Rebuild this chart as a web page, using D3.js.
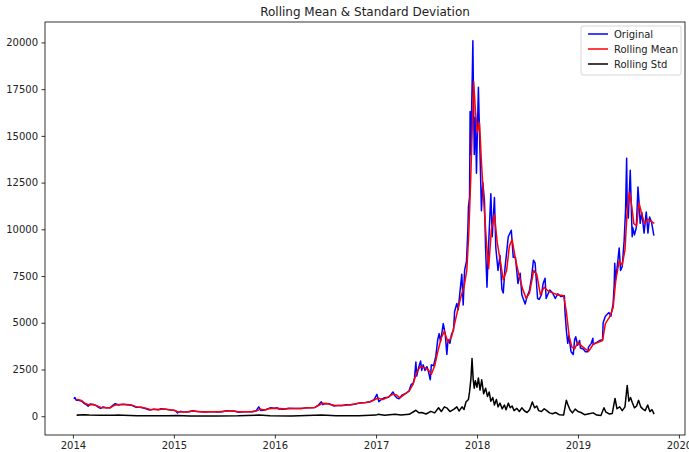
<!DOCTYPE html>
<html>
<head>
<meta charset="utf-8">
<script src="https://cdn.jsdelivr.net/npm/d3@7"></script>
<style>
  html, body { margin: 0; padding: 0; background: #fff; }
  svg { display: block; font-family: "DejaVu Sans", sans-serif; }
</style>
</head>
<body>
<svg id="chart" width="689" height="452"></svg>
<script>
// Daily price series, sampled at its turning points
const original = [
  ["2014-01-06", 960], ["2014-01-08", 1000], ["2014-01-13", 860], ["2014-01-20", 860], ["2014-02-01", 820],
  ["2014-02-10", 690], ["2014-02-18", 620], ["2014-02-25", 540], ["2014-03-05", 660], ["2014-03-15", 630],
  ["2014-03-25", 580], ["2014-04-05", 460], ["2014-04-11", 420], ["2014-04-20", 500], ["2014-05-01", 450],
  ["2014-05-15", 450], ["2014-05-25", 580], ["2014-06-03", 670], ["2014-06-15", 600], ["2014-07-01", 640],
  ["2014-07-15", 620], ["2014-08-01", 590], ["2014-08-18", 480], ["2014-09-01", 480], ["2014-09-20", 410],
  ["2014-10-05", 330], ["2014-10-20", 380], ["2014-11-05", 340], ["2014-11-15", 400], ["2014-12-01", 380],
  ["2014-12-15", 340], ["2014-12-31", 320],
  ["2015-01-07", 290], ["2015-01-14", 180], ["2015-01-25", 260], ["2015-02-10", 220], ["2015-02-25", 240],
  ["2015-03-10", 290], ["2015-03-25", 250], ["2015-04-10", 240], ["2015-04-25", 225], ["2015-05-10", 240],
  ["2015-05-25", 238], ["2015-06-10", 230], ["2015-06-25", 245], ["2015-07-10", 290], ["2015-07-25", 290],
  ["2015-08-10", 265], ["2015-08-24", 210], ["2015-09-10", 240], ["2015-09-25", 235], ["2015-10-10", 245],
  ["2015-10-25", 285], ["2015-11-04", 500], ["2015-11-11", 310], ["2015-11-20", 325], ["2015-12-01", 360],
  ["2015-12-15", 450], ["2015-12-31", 430],
  ["2016-01-10", 450], ["2016-01-15", 380], ["2016-02-01", 375], ["2016-02-20", 430], ["2016-03-10", 410],
  ["2016-03-25", 420], ["2016-04-10", 420], ["2016-04-25", 460], ["2016-05-10", 455], ["2016-05-25", 470],
  ["2016-06-05", 575], ["2016-06-17", 770], ["2016-06-23", 620], ["2016-07-01", 680], ["2016-07-15", 665],
  ["2016-08-02", 545], ["2016-08-15", 570], ["2016-09-01", 575], ["2016-09-15", 610], ["2016-10-01", 610],
  ["2016-10-15", 640], ["2016-10-30", 700], ["2016-11-10", 715], ["2016-11-25", 735], ["2016-12-10", 775],
  ["2016-12-25", 890],
  ["2017-01-04", 1170], ["2017-01-11", 780], ["2017-01-20", 895], ["2017-02-01", 990], ["2017-02-15", 1010],
  ["2017-02-25", 1180], ["2017-03-03", 1300], ["2017-03-10", 1100], ["2017-03-18", 970], ["2017-03-25", 940],
  ["2017-04-05", 1130], ["2017-04-20", 1240], ["2017-04-30", 1350], ["2017-05-08", 1700], ["2017-05-15", 1750],
  ["2017-05-20", 2050], ["2017-05-25", 2900], ["2017-05-28", 2150], ["2017-06-03", 2550], ["2017-06-11", 2950],
  ["2017-06-15", 2450], ["2017-06-20", 2750], ["2017-06-27", 2450], ["2017-07-04", 2650], ["2017-07-10", 2350],
  ["2017-07-16", 1950], ["2017-07-20", 2750], ["2017-07-28", 2700], ["2017-08-05", 3200], ["2017-08-12", 4100],
  ["2017-08-17", 4420], ["2017-08-22", 4000], ["2017-08-28", 4550], ["2017-09-01", 4960], ["2017-09-08", 4400],
  ["2017-09-14", 3300], ["2017-09-18", 4100], ["2017-09-25", 3900], ["2017-10-01", 4400], ["2017-10-08", 4600],
  ["2017-10-12", 5600], ["2017-10-20", 6030], ["2017-10-25", 5700], ["2017-11-01", 6750], ["2017-11-07", 7600],
  ["2017-11-12", 5950], ["2017-11-17", 7800], ["2017-11-24", 8300], ["2017-11-29", 10000], ["2017-12-01", 11200],
  ["2017-12-05", 11700], ["2017-12-07", 16300], ["2017-12-10", 14000], ["2017-12-13", 16800], ["2017-12-15", 18300],
  ["2017-12-17", 20089], ["2017-12-19", 17500], ["2017-12-22", 14000], ["2017-12-26", 16000], ["2017-12-30", 13000],
  ["2018-01-06", 17600], ["2018-01-11", 14600], ["2018-01-17", 11000], ["2018-01-22", 12500], ["2018-01-28", 11500],
  ["2018-02-01", 9000], ["2018-02-06", 6900], ["2018-02-10", 8500], ["2018-02-20", 11900], ["2018-02-25", 9600],
  ["2018-03-05", 11700], ["2018-03-10", 9000], ["2018-03-18", 7800], ["2018-03-25", 8600], ["2018-04-01", 6800],
  ["2018-04-06", 6600], ["2018-04-12", 7900], ["2018-04-24", 9600], ["2018-05-05", 9950], ["2018-05-12", 8500],
  ["2018-05-20", 8500], ["2018-05-29", 7100], ["2018-06-06", 7650], ["2018-06-12", 6500], ["2018-06-24", 6000],
  ["2018-07-01", 6400], ["2018-07-09", 6700], ["2018-07-17", 7400], ["2018-07-24", 8350], ["2018-07-30", 8200],
  ["2018-08-08", 6300], ["2018-08-14", 6250], ["2018-08-22", 6500], ["2018-08-28", 7100], ["2018-09-04", 7380],
  ["2018-09-08", 6300], ["2018-09-15", 6550], ["2018-09-21", 6750], ["2018-10-01", 6600], ["2018-10-11", 6300],
  ["2018-10-20", 6550], ["2018-11-01", 6400], ["2018-11-13", 6450], ["2018-11-15", 5600], ["2018-11-20", 4600],
  ["2018-11-25", 3900], ["2018-11-29", 4300], ["2018-12-07", 3450], ["2018-12-15", 3300], ["2018-12-20", 4100],
  ["2018-12-24", 4250], ["2018-12-31", 3800],
  ["2019-01-07", 4050], ["2019-01-10", 3650], ["2019-01-20", 3600], ["2019-01-28", 3450], ["2019-02-06", 3450],
  ["2019-02-08", 3700], ["2019-02-18", 3900], ["2019-02-24", 4170], ["2019-02-25", 3850], ["2019-03-10", 3950],
  ["2019-03-20", 4050], ["2019-03-31", 4100], ["2019-04-02", 5000], ["2019-04-10", 5350], ["2019-04-23", 5550],
  ["2019-04-30", 5350], ["2019-05-08", 6000], ["2019-05-12", 7000], ["2019-05-14", 8180], ["2019-05-17", 7300],
  ["2019-05-23", 8000], ["2019-05-30", 9000], ["2019-06-04", 7800], ["2019-06-10", 8000], ["2019-06-17", 9400],
  ["2019-06-22", 11000], ["2019-06-26", 13800], ["2019-06-28", 11200], ["2019-07-02", 10600], ["2019-07-09", 13160],
  ["2019-07-16", 9600], ["2019-07-18", 10100], ["2019-07-24", 9700], ["2019-07-31", 10100], ["2019-08-06", 12260],
  ["2019-08-10", 11400], ["2019-08-14", 10320], ["2019-08-20", 10900], ["2019-08-28", 9800], ["2019-09-05", 10930],
  ["2019-09-11", 9800], ["2019-09-17", 10660], ["2019-09-24", 10390], ["2019-10-02", 9700]
];

// 12-day rolling mean
const rollingMean = [
  ["2014-01-17", 900], ["2014-02-01", 840], ["2014-02-15", 680], ["2014-03-01", 600], ["2014-03-15", 630],
  ["2014-04-01", 540], ["2014-04-15", 450], ["2014-05-01", 460], ["2014-05-15", 450], ["2014-06-01", 590],
  ["2014-06-15", 630], ["2014-07-01", 630], ["2014-07-15", 625], ["2014-08-01", 595], ["2014-08-20", 500],
  ["2014-09-05", 480], ["2014-09-25", 420], ["2014-10-10", 350], ["2014-10-25", 370], ["2014-11-10", 355],
  ["2014-11-25", 385], ["2014-12-10", 360], ["2014-12-31", 325],
  ["2015-01-15", 240], ["2015-02-01", 230], ["2015-02-20", 235], ["2015-03-10", 275], ["2015-03-30", 255],
  ["2015-04-20", 230], ["2015-05-15", 238], ["2015-06-15", 235], ["2015-07-10", 275], ["2015-07-30", 288],
  ["2015-08-20", 240], ["2015-09-15", 236], ["2015-10-10", 245], ["2015-10-30", 300], ["2015-11-10", 380],
  ["2015-11-25", 330], ["2015-12-10", 400], ["2015-12-31", 430],
  ["2016-01-20", 410], ["2016-02-10", 390], ["2016-03-01", 420], ["2016-04-01", 420], ["2016-05-01", 450],
  ["2016-05-25", 470], ["2016-06-10", 600], ["2016-06-22", 700], ["2016-07-10", 670], ["2016-08-05", 570],
  ["2016-09-01", 575], ["2016-10-01", 610], ["2016-10-30", 690], ["2016-11-25", 730], ["2016-12-15", 790],
  ["2016-12-31", 920],
  ["2017-01-10", 960], ["2017-01-25", 890], ["2017-02-10", 1000], ["2017-03-01", 1170], ["2017-03-15", 1150],
  ["2017-03-28", 980], ["2017-04-15", 1180], ["2017-05-01", 1350], ["2017-05-15", 1720], ["2017-05-28", 2350],
  ["2017-06-10", 2650], ["2017-06-25", 2600], ["2017-07-08", 2500], ["2017-07-20", 2250], ["2017-08-01", 2700],
  ["2017-08-12", 3450], ["2017-08-25", 4200], ["2017-09-05", 4550], ["2017-09-18", 3950], ["2017-10-01", 4250],
  ["2017-10-12", 4950], ["2017-10-25", 5800], ["2017-11-05", 6450], ["2017-11-15", 6900], ["2017-11-25", 7800],
  ["2017-12-02", 9700], ["2017-12-09", 12600], ["2017-12-15", 15500], ["2017-12-20", 17900], ["2017-12-26", 16400],
  ["2018-01-02", 15200], ["2018-01-10", 15700], ["2018-01-17", 13600], ["2018-01-25", 11600], ["2018-02-05", 9100],
  ["2018-02-12", 7900], ["2018-02-22", 10000], ["2018-03-05", 10800], ["2018-03-15", 9300], ["2018-03-25", 8400],
  ["2018-04-06", 7300], ["2018-04-18", 7800], ["2018-04-28", 9100], ["2018-05-08", 9450], ["2018-05-20", 8400],
  ["2018-06-01", 7600], ["2018-06-15", 6800], ["2018-06-28", 6300], ["2018-07-10", 6600], ["2018-07-25", 7800],
  ["2018-08-05", 7600], ["2018-08-18", 6500], ["2018-09-01", 6900], ["2018-09-15", 6700], ["2018-10-01", 6600],
  ["2018-10-20", 6500], ["2018-11-10", 6450], ["2018-11-20", 5600], ["2018-11-30", 4300], ["2018-12-10", 3700],
  ["2018-12-20", 3600], ["2018-12-31", 3950],
  ["2019-01-15", 3750], ["2019-02-01", 3550], ["2019-02-10", 3500], ["2019-02-25", 3850], ["2019-03-15", 3950],
  ["2019-03-31", 4050], ["2019-04-10", 4950], ["2019-04-25", 5300], ["2019-05-08", 5800], ["2019-05-18", 7300],
  ["2019-05-30", 8300], ["2019-06-10", 8100], ["2019-06-20", 8900], ["2019-06-28", 11000], ["2019-07-06", 12000],
  ["2019-07-14", 11300], ["2019-07-22", 10300], ["2019-08-01", 10200], ["2019-08-10", 11400], ["2019-08-20", 10800],
  ["2019-08-30", 10300], ["2019-09-10", 10550], ["2019-09-20", 10450], ["2019-10-02", 10340]
];

// 12-day rolling standard deviation
const rollingStd = [
  ["2014-01-17", 60], ["2014-02-10", 80], ["2014-03-01", 60], ["2014-04-10", 50], ["2014-06-01", 50],
  ["2014-06-10", 60], ["2014-08-20", 30], ["2014-10-05", 30], ["2014-12-01", 20], ["2015-01-15", 40],
  ["2015-03-01", 15], ["2015-06-01", 10], ["2015-08-20", 20], ["2015-11-05", 60], ["2015-12-15", 25],
  ["2016-03-01", 15], ["2016-06-18", 70], ["2016-08-10", 30], ["2016-10-30", 25], ["2016-12-31", 60],
  ["2017-01-08", 100], ["2017-02-01", 50], ["2017-03-10", 110], ["2017-04-01", 60], ["2017-05-01", 100],
  ["2017-05-25", 320], ["2017-06-05", 180], ["2017-06-15", 200], ["2017-07-01", 120], ["2017-07-18", 260],
  ["2017-08-01", 180], ["2017-08-15", 450], ["2017-08-25", 250], ["2017-09-05", 500], ["2017-09-15", 430],
  ["2017-09-25", 250], ["2017-10-10", 380], ["2017-10-20", 500], ["2017-10-28", 280], ["2017-11-08", 500],
  ["2017-11-15", 360], ["2017-11-22", 760], ["2017-12-01", 900], ["2017-12-05", 1300], ["2017-12-10", 2000],
  ["2017-12-14", 3085], ["2017-12-18", 2000], ["2017-12-22", 1500], ["2017-12-26", 1900], ["2018-01-01", 1550],
  ["2018-01-06", 2050], ["2018-01-12", 1400], ["2018-01-18", 1950], ["2018-01-25", 1200], ["2018-02-01", 1500],
  ["2018-02-08", 1050], ["2018-02-14", 1300], ["2018-02-20", 800], ["2018-02-27", 1000], ["2018-03-05", 600],
  ["2018-03-12", 900], ["2018-03-18", 500], ["2018-03-25", 700], ["2018-04-02", 400], ["2018-04-10", 600],
  ["2018-04-16", 350], ["2018-04-24", 700], ["2018-05-01", 450], ["2018-05-08", 550], ["2018-05-15", 300],
  ["2018-05-25", 420], ["2018-06-03", 250], ["2018-06-12", 450], ["2018-06-22", 280], ["2018-07-01", 200],
  ["2018-07-10", 350], ["2018-07-20", 760], ["2018-07-28", 450], ["2018-08-05", 550], ["2018-08-12", 300],
  ["2018-08-22", 250], ["2018-09-01", 400], ["2018-09-10", 300], ["2018-09-20", 180], ["2018-10-01", 130],
  ["2018-10-12", 200], ["2018-10-25", 80], ["2018-11-10", 60], ["2018-11-20", 860], ["2018-11-26", 600],
  ["2018-12-03", 350], ["2018-12-12", 180], ["2018-12-22", 380], ["2019-01-01", 250], ["2019-01-12", 200],
  ["2019-01-25", 80], ["2019-02-10", 130], ["2019-02-25", 180], ["2019-03-10", 60], ["2019-03-25", 40],
  ["2019-04-05", 450], ["2019-04-12", 220], ["2019-04-25", 120], ["2019-05-05", 150], ["2019-05-15", 950],
  ["2019-05-22", 400], ["2019-06-01", 500], ["2019-06-10", 300], ["2019-06-20", 500], ["2019-06-28", 1650],
  ["2019-07-04", 800], ["2019-07-10", 1000], ["2019-07-16", 750], ["2019-07-24", 450], ["2019-08-01", 550],
  ["2019-08-08", 850], ["2019-08-16", 500], ["2019-08-24", 380], ["2019-09-01", 300], ["2019-09-10", 600],
  ["2019-09-18", 250], ["2019-09-26", 350], ["2019-10-02", 150]
];

const xLimits = ["2013-09-22", "2020-01-23"];
const xTickLabels = ["2014", "2015", "2016", "2017", "2018", "2019", "2020"];
const yTickValues = [0, 2500, 5000, 7500, 10000, 12500, 15000, 17500, 20000];
const seriesNames = ["Original", "Rolling Mean", "Rolling Std"];
const seriesColors = ["#0000ff", "#ff0000", "#000000"];
const chartTitle = "Rolling Mean & Standard Deviation";

const parse = d3.timeParse("%Y-%m-%d");
const toPoints = arr => arr.map(([d, v]) => ({ date: parse(d), value: v }));
const series = [original, rollingMean, rollingStd].map(toPoints);

const svg = d3.select("#chart");
const margin = { left: 45, right: 4, top: 22, bottom: 17 };
const W = 689, H = 452;
const x0 = margin.left, x1 = W - margin.right, y0 = margin.top, y1 = H - margin.bottom;

const x = d3.scaleTime()
  .domain(xLimits.map(parse))
  .range([x0, x1]);

const allValues = series.flat().map(p => p.value);
const vMin = 0, vMax = d3.max(allValues);
const pad = (vMax - vMin) * 0.05;
const y = d3.scaleLinear()
  .domain([vMin - pad, vMax + pad])
  .range([y1, y0]);

// clip lines to the axes
svg.append("clipPath").attr("id", "plotclip")
  .append("rect").attr("x", x0).attr("y", y0).attr("width", x1 - x0).attr("height", y1 - y0);

const line = d3.line().x(p => x(p.date)).y(p => y(p.value));
const plot = svg.append("g").attr("clip-path", "url(#plotclip)");
series.forEach((pts, i) => {
  plot.append("path")
    .datum(pts)
    .attr("fill", "none")
    .attr("stroke", seriesColors[i])
    .attr("stroke-width", 1.5)
    .attr("stroke-linejoin", "round")
    .attr("stroke-linecap", "square")
    .attr("d", line);
});

// axes
const xAxis = d3.axisBottom(x)
  .tickValues(xTickLabels.map(t => parse(t + "-01-01")))
  .tickFormat(d3.timeFormat("%Y"))
  .tickSize(3.5).tickPadding(3.5);
const yAxis = d3.axisLeft(y)
  .tickValues(yTickValues)
  .tickFormat(d3.format("d"))
  .tickSize(3.5).tickPadding(3.5);

const gx = svg.append("g").attr("transform", `translate(0,${y1})`).call(xAxis);
const gy = svg.append("g").attr("transform", `translate(${x0},0)`).call(yAxis);
[gx, gy].forEach(g => {
  g.select(".domain").remove();
  g.selectAll(".tick line").attr("stroke", "#000").attr("stroke-width", 0.8);
  g.selectAll(".tick text").attr("fill", "#222").style("font-size", "10px")
    .style("font-family", "'DejaVu Sans', sans-serif");
});

// frame
svg.append("rect")
  .attr("x", x0).attr("y", y0).attr("width", x1 - x0).attr("height", y1 - y0)
  .attr("fill", "none").attr("stroke", "#000").attr("stroke-width", 0.8);

// title
svg.append("text")
  .attr("x", (x0 + x1) / 2).attr("y", 16)
  .attr("text-anchor", "middle")
  .style("font-size", "12px").attr("fill", "#222")
  .text(chartTitle);

// legend
const lg = svg.append("g").attr("transform", `translate(${x1 - 104},${y0 + 4})`);
lg.append("rect")
  .attr("width", 100).attr("height", 49).attr("rx", 2)
  .attr("fill", "#fff").attr("fill-opacity", 0.8)
  .attr("stroke", "#ccc").attr("stroke-width", 0.8);
seriesNames.forEach((name, i) => {
  const yy = 8 + i * 15;
  lg.append("line")
    .attr("x1", 7).attr("x2", 27).attr("y1", yy).attr("y2", yy)
    .attr("stroke", seriesColors[i]).attr("stroke-width", 1.5);
  lg.append("text")
    .attr("x", 33).attr("y", yy + 3.5)
    .style("font-size", "10px").attr("fill", "#222")
    .text(name);
});
</script>
</body>
</html>
